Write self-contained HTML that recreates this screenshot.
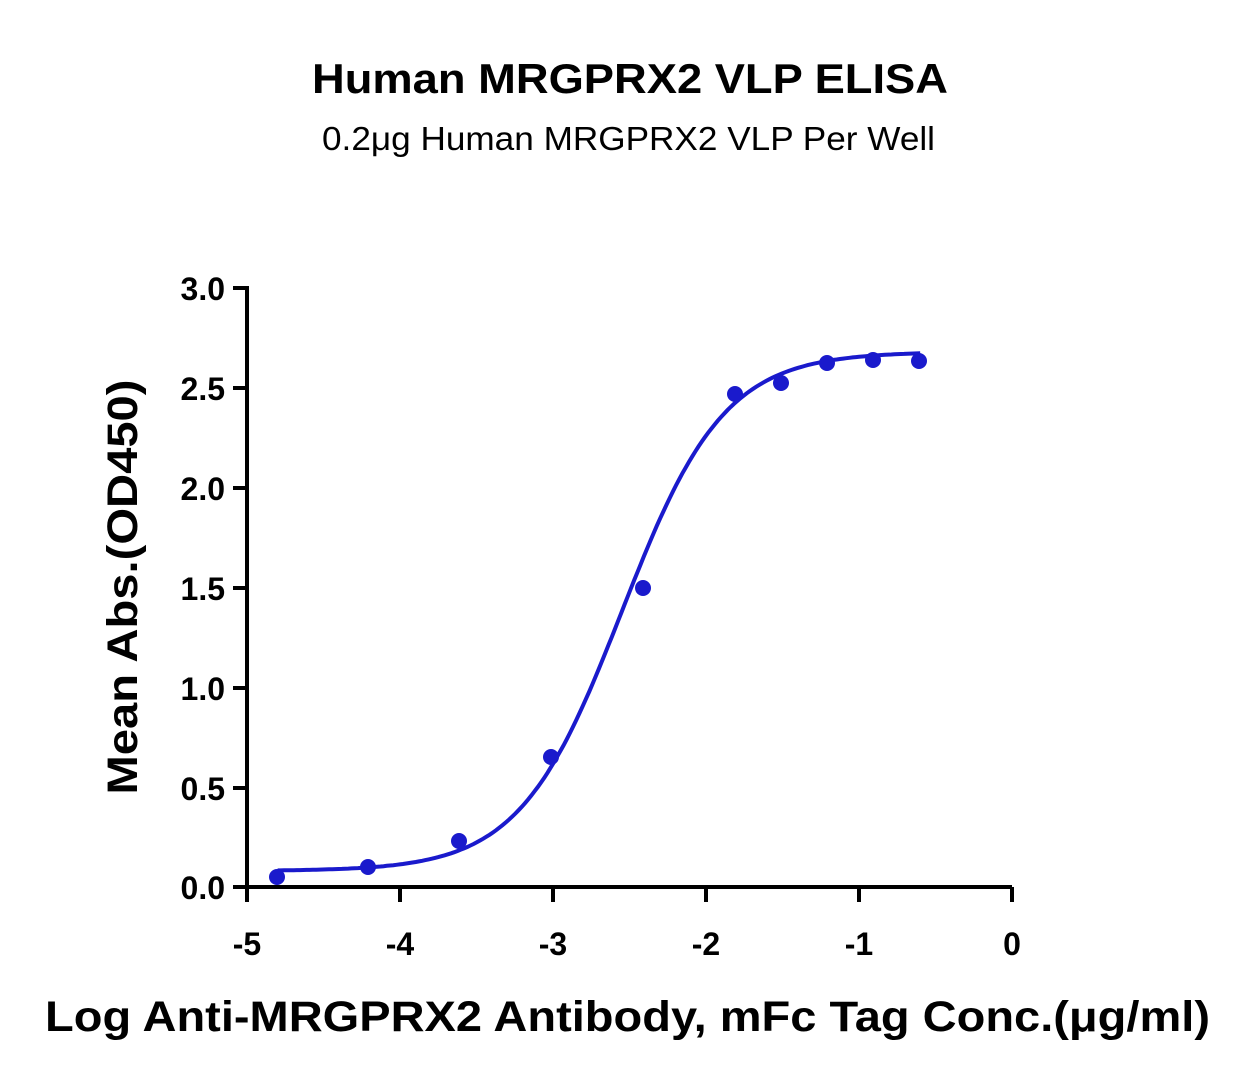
<!DOCTYPE html>
<html><head><style>body{margin:0;background:#fff}</style></head><body>
<svg width="1257" height="1087" xmlns="http://www.w3.org/2000/svg" font-family="Liberation Sans, sans-serif">
<text x="312" y="93" textLength="636" lengthAdjust="spacingAndGlyphs" font-size="42" font-weight="bold">Human MRGPRX2 VLP ELISA</text>
<text x="322" y="150" textLength="613" lengthAdjust="spacingAndGlyphs" font-size="33">0.2μg Human MRGPRX2 VLP Per Well</text>
<g stroke="#000" stroke-width="4" fill="none">
<path d="M247,286 V887 H1012"/>
<path d="M233,288H247M233,388H247M233,488H247M233,588H247M233,688H247M233,788H247M233,887H247"/>
<path d="M247,887V902M400,887V902M553,887V902M706,887V902M859,887V902M1012,887V902"/>
</g>
<g font-size="32" font-weight="bold" text-anchor="end">
<text x="225" y="300">3.0</text><text x="225" y="400">2.5</text><text x="225" y="500">2.0</text>
<text x="225" y="600">1.5</text><text x="225" y="700">1.0</text><text x="225" y="800">0.5</text><text x="225" y="899">0.0</text>
</g>
<g font-size="32" font-weight="bold" text-anchor="middle">
<text x="247" y="955">-5</text><text x="400" y="955">-4</text><text x="553" y="955">-3</text>
<text x="706" y="955">-2</text><text x="859" y="955">-1</text><text x="1012" y="955">0</text>
</g>
<text x="45" y="1031" textLength="1165" lengthAdjust="spacingAndGlyphs" font-size="43" font-weight="bold">Log Anti-MRGPRX2 Antibody, mFc Tag Conc.(μg/ml)</text>
<text transform="translate(137,587) rotate(-90)" text-anchor="middle" textLength="415" lengthAdjust="spacingAndGlyphs" font-size="43" font-weight="bold">Mean Abs.(OD450)</text>
<path id="c" fill="none" stroke="#1a1acc" stroke-width="4"/>
<g fill="#1a1acc">
<circle cx="277" cy="877" r="8"/><circle cx="368" cy="867" r="8"/><circle cx="459" cy="841" r="8"/>
<circle cx="551" cy="757" r="8"/><circle cx="643" cy="588" r="8"/><circle cx="735" cy="394" r="8"/>
<circle cx="781" cy="383" r="8"/><circle cx="827" cy="363" r="8"/><circle cx="873" cy="360" r="8"/>
<circle cx="919" cy="361" r="8"/>
</g>
<script>
var d="";for(var i=0;i<=200;i++){var lx=-4.8+4.2*i/200;var y=0.08+(2.6)/(1+Math.pow(10,(-2.55-lx)*1.3));
var px=247+(lx+5)*153,py=887-y*199.7;d+=(i?"L":"M")+px.toFixed(1)+","+py.toFixed(1);}
document.getElementById("c").setAttribute("d",d);
</script>
</svg>
</body></html>
